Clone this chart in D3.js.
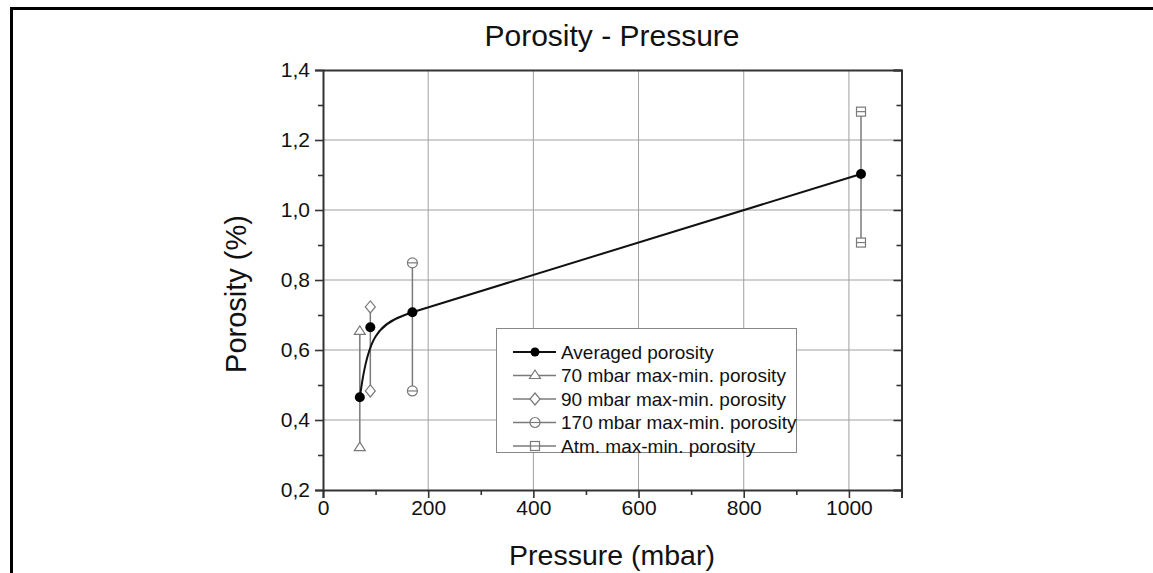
<!DOCTYPE html>
<html>
<head>
<meta charset="utf-8">
<script src="https://cdn.jsdelivr.net/npm/d3@7"></script>
<style>
  html, body { margin: 0; padding: 0; background: #fff; }
  svg { display: block; font-family: "Liberation Sans", Arial, sans-serif; }
</style>
</head>
<body>
<svg id="chart" width="1153" height="573"></svg>
<script>
// ---- data ----
const title = "Porosity - Pressure";
const xLabel = "Pressure (mbar)";
const yLabel = "Porosity (%)";
const pressures = [70, 90, 170, 1023];
const avgPorosity = [0.465, 0.665, 0.708, 1.103];
const maxPorosity = [0.653, 0.723, 0.849, 1.281];
const minPorosity = [0.321, 0.483, 0.483, 0.907];
const markerTypes = ["triangle", "diamond", "circle", "square"];
const legendLabels = ["Averaged porosity", "70 mbar max-min. porosity", "90 mbar max-min. porosity", "170 mbar max-min. porosity", "Atm. max-min. porosity"];
const xTicks = [0, 200, 400, 600, 800, 1000];
const xMinorTicks = [100, 300, 500, 700, 900, 1100];
const yTicks = [0.2, 0.4, 0.6, 0.8, 1.0, 1.2, 1.4];
const yMinorTicks = [0.3, 0.5, 0.7, 0.9, 1.1, 1.3];

// ---- layout ----
const svg = d3.select("#chart");
const L = 323, R = 901.5, T = 70, B = 490;
const x = d3.scaleLinear().domain([0, 1100]).range([L, R]);
const y = d3.scaleLinear().domain([0.2, 1.4]).range([B, T]);
const fmt = v => d3.format(".1f")(v).replace(".", ",");
const gray = "#7a7a7a";

// outer frame
svg.append("path").attr("d", "M11.5,573 L11.5,8.5 L1153,8.5")
  .attr("fill", "none").attr("stroke", "#000").attr("stroke-width", 3);

// title
svg.append("text").attr("x", 612).attr("y", 46).attr("text-anchor", "middle")
  .attr("font-size", 30).attr("fill", "#111").text(title);

// grid
const grid = svg.append("g").attr("stroke", "#a0a0a0").attr("stroke-width", 1);
xTicks.filter(v => v > 0).forEach(v => grid.append("line")
  .attr("x1", x(v)).attr("x2", x(v)).attr("y1", T).attr("y2", B));
yTicks.filter(v => v > 0.25 && v < 1.35).forEach(v => grid.append("line")
  .attr("x1", L).attr("x2", R).attr("y1", y(v)).attr("y2", y(v)));

// axes
const axisColor = "#333";
svg.append("g").attr("transform", `translate(0,${B})`)
  .call(d3.axisBottom(x).tickValues(xTicks).tickSize(8).tickPadding(2).tickFormat(d3.format("d")));
svg.append("g").attr("transform", `translate(0,${B})`)
  .call(d3.axisBottom(x).tickValues(xMinorTicks).tickSize(5).tickFormat(""))
  .select(".domain").remove();
svg.append("g").attr("transform", `translate(${L},0)`)
  .call(d3.axisLeft(y).tickValues(yTicks).tickSize(8).tickPadding(5).tickFormat(fmt));
svg.append("g").attr("transform", `translate(${L},0)`)
  .call(d3.axisLeft(y).tickValues(yMinorTicks).tickSize(5).tickFormat(""))
  .select(".domain").remove();
// right axis with inward ticks
svg.append("g").attr("transform", `translate(${R},0)`)
  .call(d3.axisRight(y).tickValues(yTicks).tickSize(-8).tickFormat(""));
svg.append("g").attr("transform", `translate(${R},0)`)
  .call(d3.axisRight(y).tickValues(yMinorTicks).tickSize(-5).tickFormat(""))
  .select(".domain").remove();
// top axis line
svg.append("g").attr("transform", `translate(0,${T})`)
  .call(d3.axisTop(x).tickValues([]).tickSizeOuter(0));

svg.selectAll(".domain").attr("stroke", axisColor).attr("stroke-width", 2);
svg.selectAll(".tick line").attr("stroke", axisColor).attr("stroke-width", 1.6);
svg.selectAll(".tick text").attr("font-size", 21).attr("fill", "#111")
  .attr("font-family", "Liberation Sans, Arial, sans-serif");

// axis labels
svg.append("text").attr("x", 612).attr("y", 565).attr("text-anchor", "middle")
  .attr("font-size", 28.5).attr("fill", "#111").text(xLabel);
svg.append("text").attr("transform", "translate(246,294) rotate(-90)")
  .attr("text-anchor", "middle").attr("font-size", 29).attr("fill", "#111").text(yLabel);

// marker drawing
function drawMarker(g, type, cx, cy) {
  const s = 5;
  const m = g.append("g").attr("fill", "#fff").attr("stroke", gray).attr("stroke-width", 1.2);
  if (type === "triangle") {
    m.append("path").attr("d", `M${cx},${cy - s - 0.5} L${cx + s + 0.5},${cy + s * 0.6} L${cx - s - 0.5},${cy + s * 0.6} Z`);
  } else if (type === "diamond") {
    m.append("path").attr("d", `M${cx},${cy - s - 1} L${cx + s},${cy} L${cx},${cy + s + 1} L${cx - s},${cy} Z`);
  } else if (type === "circle") {
    m.append("circle").attr("cx", cx).attr("cy", cy).attr("r", s);
    m.append("line").attr("x1", cx - s).attr("x2", cx + s).attr("y1", cy).attr("y2", cy);
  } else if (type === "square") {
    m.append("rect").attr("x", cx - 4.5).attr("y", cy - 4.5).attr("width", 9).attr("height", 9);
    m.append("line").attr("x1", cx - 4.5).attr("x2", cx + 4.5).attr("y1", cy).attr("y2", cy);
  }
}

// error bars (max-min)
const eb = svg.append("g");
pressures.forEach((p, i) => {
  eb.append("line").attr("x1", x(p)).attr("x2", x(p))
    .attr("y1", y(maxPorosity[i])).attr("y2", y(minPorosity[i]))
    .attr("stroke", gray).attr("stroke-width", 1.5);
});

// averaged curve: B-spline through the low-pressure points, then straight to atmospheric
const pts = pressures.map((p, i) => [x(p), y(avgPorosity[i])]);
svg.append("path").attr("d", d3.line().curve(d3.curveBasis)(pts.slice(0, 3)))
  .attr("fill", "none").attr("stroke", "#111").attr("stroke-width", 2);
svg.append("path").attr("d", d3.line()(pts.slice(2)))
  .attr("fill", "none").attr("stroke", "#111").attr("stroke-width", 2);

pressures.forEach((p, i) => {
  drawMarker(eb, markerTypes[i], x(p), y(maxPorosity[i]));
  drawMarker(eb, markerTypes[i], x(p), y(minPorosity[i]));
});
svg.append("g").selectAll("circle").data(pts).join("circle")
  .attr("cx", d => d[0]).attr("cy", d => d[1]).attr("r", 5).attr("fill", "#000");

// legend
const lg = svg.append("g");
lg.append("rect").attr("x", 496.5).attr("y", 328.5).attr("width", 300).attr("height", 124)
  .attr("fill", "#fff").attr("stroke", "#888").attr("stroke-width", 1);
legendLabels.forEach((lab, i) => {
  const cy = 352 + i * 23.5;
  lg.append("line").attr("x1", 513).attr("x2", 556).attr("y1", cy).attr("y2", cy)
    .attr("stroke", i === 0 ? "#111" : gray).attr("stroke-width", i === 0 ? 2 : 1.3);
  if (i === 0) {
    lg.append("circle").attr("cx", 535).attr("cy", cy).attr("r", 4.5).attr("fill", "#000");
  } else {
    drawMarker(lg, markerTypes[i - 1], 535, cy);
  }
  lg.append("text").attr("x", 561).attr("y", cy + 6.5).attr("font-size", 19)
    .attr("fill", "#111").text(lab);
});
</script>
</body>
</html>
